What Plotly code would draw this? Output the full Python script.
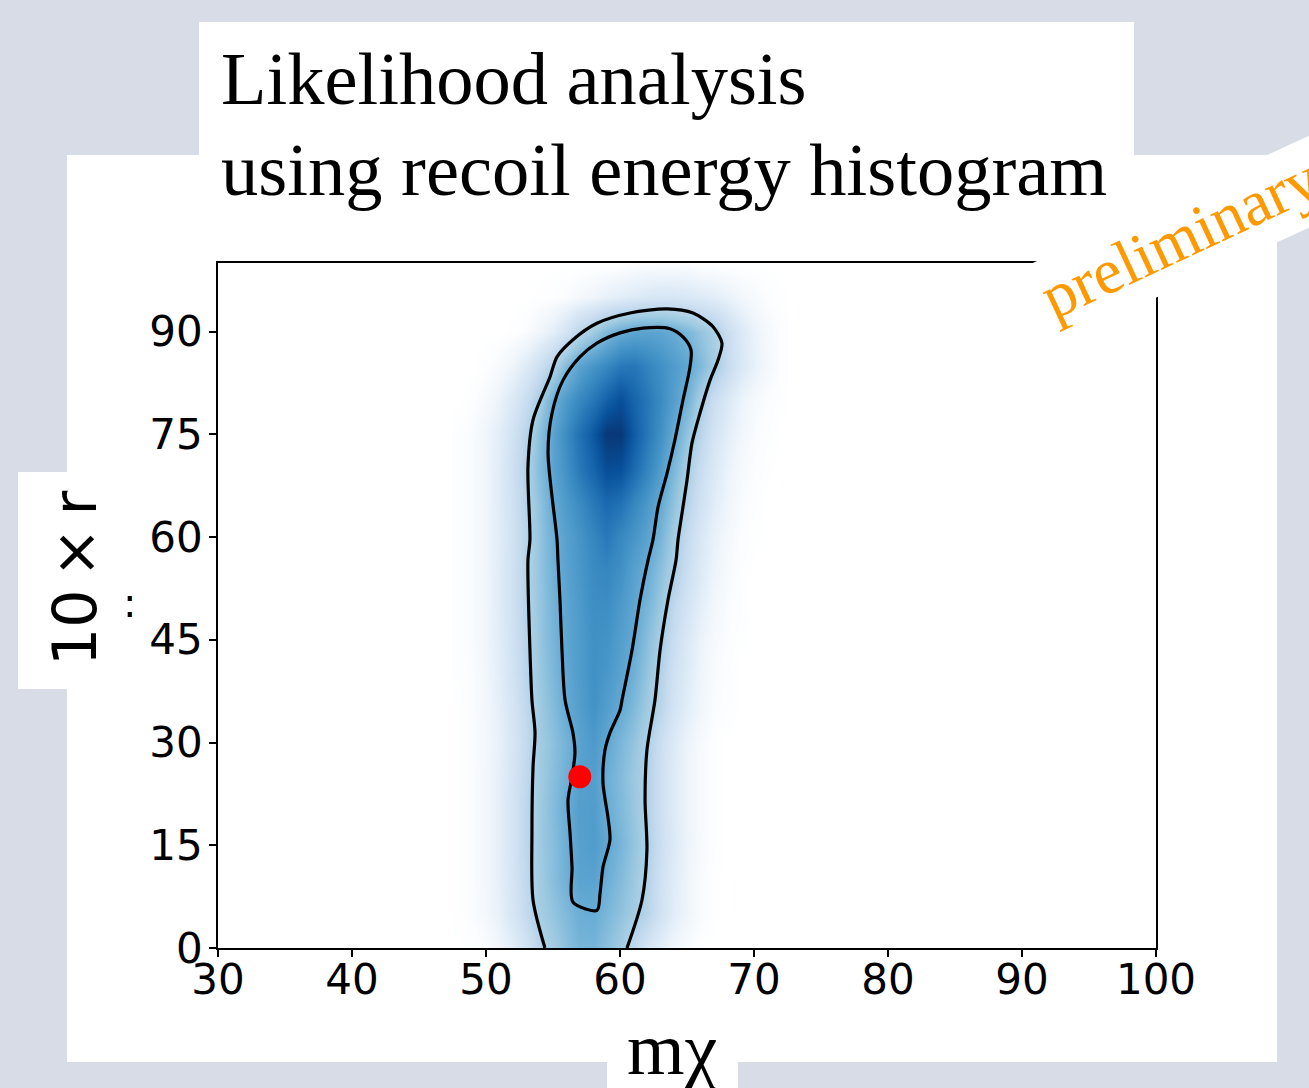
import plotly.graph_objects as go

W, H = 1309, 1088
L, R, T, B = 218, 1156, 263, 948


def px(x):
    return (x - L) / (R - L)


def py(y):
    return (B - y) / (B - T)


# ---------------- data ----------------
mass_grid = list(range(48, 73))          # m_chi grid columns
r_grid = list(range(0, 101, 5))          # 10 x r grid rows

density = [
    [0, .005, .02, .055, .105, .18, .29, .36, .42, .47, .47, .42, .36, .27, .17, .10, .05, .02, .005, 0, 0, 0, 0, 0, 0],
    [.005, .02, .045, .09, .16, .26, .35, .40, .45, .50, .51, .46, .41, .36, .30, .19, .11, .06, .025, .005, 0, 0, 0, 0, 0],
    [.005, .02, .05, .10, .17, .27, .36, .43, .49, .55, .55, .50, .44, .38, .31, .20, .12, .06, .025, .005, 0, 0, 0, 0, 0],
    [.005, .02, .05, .10, .175, .28, .37, .43, .50, .56, .58, .53, .47, .40, .33, .22, .13, .07, .03, .01, 0, 0, 0, 0, 0],
    [.005, .02, .05, .10, .175, .28, .37, .44, .51, .57, .58, .51, .45, .39, .32, .21, .125, .065, .03, .01, 0, 0, 0, 0, 0],
    [.005, .02, .05, .10, .17, .27, .36, .43, .49, .56, .57, .50, .44, .38, .32, .21, .125, .065, .03, .01, 0, 0, 0, 0, 0],
    [.005, .02, .045, .09, .16, .26, .36, .42, .48, .55, .59, .53, .46, .40, .33, .22, .13, .07, .03, .01, 0, 0, 0, 0, 0],
    [.005, .02, .05, .10, .17, .27, .37, .44, .52, .57, .62, .57, .52, .45, .37, .29, .18, .105, .055, .02, .01, 0, 0, 0, 0],
    [.01, .02, .055, .11, .185, .295, .38, .46, .53, .58, .63, .60, .55, .49, .40, .31, .20, .12, .06, .025, .01, 0, 0, 0, 0],
    [.01, .025, .06, .115, .195, .305, .39, .47, .54, .58, .63, .62, .57, .52, .43, .34, .23, .14, .075, .035, .015, .005, 0, 0, 0],
    [.01, .025, .06, .12, .20, .31, .39, .48, .54, .59, .64, .64, .59, .54, .47, .38, .27, .17, .10, .05, .02, .01, 0, 0, 0],
    [.01, .025, .06, .12, .20, .31, .40, .49, .55, .60, .65, .67, .63, .56, .51, .42, .33, .22, .13, .07, .03, .01, 0, 0, 0],
    [.01, .025, .06, .115, .195, .305, .40, .50, .56, .61, .67, .72, .66, .61, .55, .47, .36, .25, .15, .085, .04, .015, .005, 0, 0],
    [.01, .025, .06, .12, .20, .31, .41, .52, .59, .65, .72, .78, .75, .67, .60, .52, .41, .30, .195, .115, .06, .025, .01, 0, 0],
    [.01, .025, .06, .12, .21, .32, .44, .55, .63, .72, .80, .89, .88, .78, .68, .58, .46, .34, .23, .14, .075, .035, .015, .005, 0],
    [.01, .025, .06, .11, .19, .30, .42, .55, .65, .75, .85, .97, .97, .84, .73, .63, .52, .40, .29, .18, .105, .055, .02, .01, 0],
    [0, .01, .035, .075, .14, .23, .35, .50, .59, .66, .73, .81, .88, .80, .73, .65, .57, .48, .34, .23, .14, .075, .035, .015, .005],
    [0, 0, .01, .03, .065, .125, .21, .32, .45, .55, .61, .66, .72, .73, .68, .63, .58, .53, .45, .36, .25, .15, .085, .04, .015],
    [0, 0, 0, 0, .005, .02, .055, .105, .18, .29, .37, .45, .51, .54, .55, .54, .51, .46, .40, .34, .23, .14, .075, .035, .015],
    [0, 0, 0, 0, 0, 0, .005, .01, .02, .04, .06, .09, .11, .13, .15, .16, .16, .15, .13, .11, .08, .05, .03, .015, .005],
    [0, 0, 0, 0, 0, 0, 0, 0, 0, 0, 0, 0, 0, .01, .01, .01, .01, .01, 0, 0, 0, 0, 0, 0, 0],
]

outer_x = [54.4, 53.51, 53.43, 53.51, 53.66, 53.43, 53.28, 53.13, 53.28, 53.13, 53.51, 54.78, 55.30,
           56.49, 58.28, 60.75, 63.51, 65.45, 66.94, 67.61, 67.31, 66.72, 65.97, 65.37, 65.0, 64.63,
           64.33, 64.18, 63.58, 62.99, 62.61, 62.01, 61.87, 62.01, 61.64, 60.52]
outer_y = [0.0, 7.0, 16.8, 26.4, 31.4, 36.2, 43.5, 56.6, 59.6, 70.2, 77.1, 83.4, 86.3,
           88.8, 91.2, 92.7, 93.3, 92.7, 90.7, 88.3, 85.8, 82.9, 78.1, 73.7, 68.3, 63.5,
           59.6, 56.6, 50.8, 43.5, 36.2, 28.9, 21.6, 14.3, 7.0, 0.0]

inner_x = [56.49, 56.42, 56.27, 56.12, 56.42, 56.64, 56.49, 55.90, 55.67, 55.52, 55.37, 55.30, 54.63,
           54.93, 55.75, 57.01, 58.28, 60.0, 61.72, 63.73, 64.70, 65.30, 65.22, 64.70, 64.10, 63.51,
           62.84, 62.46, 62.09, 61.49, 60.90, 60.15, 60.0, 59.25, 58.88, 58.73, 59.10, 59.25, 58.73,
           58.51, 58.28, 56.49]
inner_y = [6.7, 11.8, 16.8, 21.6, 25.0, 28.5, 31.4, 36.2, 43.5, 50.8, 56.6, 59.6, 72.3,
           78.1, 82.9, 86.3, 88.3, 89.8, 90.5, 90.4, 89.2, 87.3, 84.8, 80.0, 74.2, 69.3,
           64.4, 59.6, 56.6, 50.8, 43.5, 36.2, 34.7, 31.4, 28.9, 24.1, 19.1, 15.8, 11.8,
           8.0, 5.5, 6.7]

true_mass = [57.0]
true_r = [25.0]

x_ticks = [30, 40, 50, 60, 70, 80, 90, 100]
y_ticks = [0, 15, 30, 45, 60, 75, 90]

blues = [[0, '#ffffff'], [0.125, '#deebf7'], [0.25, '#c6dbef'], [0.375, '#9ecae1'],
         [0.5, '#6baed6'], [0.625, '#4292c6'], [0.75, '#2171b5'], [0.875, '#08519c'],
         [1, '#08306b']]

# ---------------- figure ----------------
fig = go.Figure()
fig.add_trace(go.Heatmap(x=mass_grid, y=r_grid, z=density, zmin=0, zmax=1,
                         colorscale=blues, zsmooth='best', showscale=False,
                         hoverinfo='skip'))
for cx, cy in ((outer_x, outer_y), (inner_x, inner_y)):
    fig.add_trace(go.Scatter(x=cx, y=cy, mode='lines',
                             line=dict(color='black', width=3.2, shape='spline', smoothing=0.8),
                             showlegend=False, hoverinfo='skip'))
fig.add_trace(go.Scatter(x=true_mass, y=true_r, mode='markers',
                         marker=dict(color='#ff0000', size=23, line=dict(width=0)),
                         showlegend=False, hoverinfo='skip', cliponaxis=False))

axis_common = dict(showgrid=False, zeroline=False, showline=True, linecolor='black',
                   linewidth=1.6, mirror=True, ticks='outside', ticklen=7, tickwidth=1.6,
                   tickcolor='black', tickfont=dict(family='DejaVu Sans', size=42, color='black'))

fig.update_xaxes(range=[30, 100], tickvals=x_ticks, ticktext=[str(v) for v in x_ticks],
                 ticklabelstandoff=-13, **axis_common)
fig.update_yaxes(range=[0, 100], tickvals=y_ticks, ticktext=[str(v) for v in y_ticks],
                 ticklabelstandoff=-2, **axis_common)

# white slide panels
panels = [(67, 155, 1277, 1062), (199, 22, 1134, 160), (18, 472, 80, 689), (607, 1050, 738, 1100)]
shapes = []
for x0, y0, x1, y1 in panels:
    shapes.append(dict(type='rect', xref='paper', yref='paper', x0=px(x0), x1=px(x1),
                       y0=py(y1), y1=py(y0), fillcolor='white', line=dict(width=0), layer='below'))

# rotated white label box for "preliminary"
corners = [(1059, 342), (1400, 186), (1365, 110), (1024, 267)]
path = 'M ' + ' L '.join(f'{px(a):.5f},{py(b):.5f}' for a, b in corners) + ' Z'
shapes.append(dict(type='path', xref='paper', yref='paper', path=path, fillcolor='white',
                   line=dict(width=0), layer='above'))

serif = 'Liberation Serif'
annotations = [
    dict(text='Likelihood analysis', x=px(219), y=py(78.5), xanchor='left', yanchor='middle',
         font=dict(family=serif, size=74.5, color='black')),
    dict(text='using recoil energy histogram', x=px(219), y=py(169.5), xanchor='left', yanchor='middle',
         font=dict(family=serif, size=74.5, color='black')),
    dict(text='preliminary', x=px(1180), y=py(238), xanchor='center', yanchor='middle', textangle=-25,
         font=dict(family=serif, size=64, color='#ff9900')),
    dict(text='10\u2009\u00d7\u2009r', x=px(75), y=py(578), xanchor='center', yanchor='middle',
         textangle=-90, font=dict(family='DejaVu Sans', size=60, color='black')),
    dict(text=':', x=px(129), y=py(603), xanchor='center', yanchor='middle',
         font=dict(family='DejaVu Sans', size=40, color='black')),
    dict(text='m\u03c7', x=px(672), y=py(1049), xanchor='center', yanchor='middle',
         font=dict(family=serif, size=74, color='black')),
]
for a in annotations:
    a.update(xref='paper', yref='paper', showarrow=False)

fig.update_layout(width=W, height=H, margin=dict(l=L, r=W - R, t=T, b=H - B, pad=0),
                  paper_bgcolor='#d7dce6', plot_bgcolor='white', shapes=shapes,
                  annotations=annotations, showlegend=False)

fig.write_html('out.html')
